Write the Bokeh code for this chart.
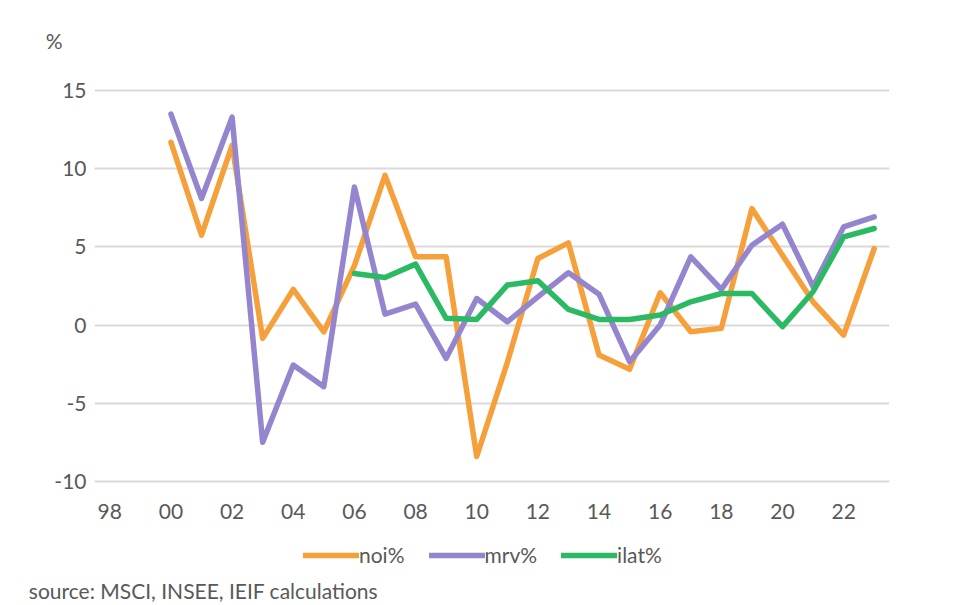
from bokeh.plotting import figure
from bokeh.models import FixedTicker, Legend, LegendItem, Range1d
from bokeh.layouts import column
from bokeh.embed import file_html
from bokeh.resources import INLINE

years = list(range(2000, 2024))
noi = [11.7, 5.75, 11.5, -0.85, 2.28, -0.43, 3.8, 9.58, 4.37, 4.37, -8.41, -2.4,
       4.26, 5.26, -1.92, -2.83, 2.07, -0.43, -0.21, 7.45, 4.47, 1.49, -0.64, 4.9]
mrv = [13.5, 8.1, 13.3, -7.5, -2.56, -3.94, 8.84, 0.7, 1.34, -2.13, 1.7, 0.21,
       1.8, 3.35, 1.98, -2.34, 0.0, 4.37, 2.28, 5.11, 6.45, 2.45, 6.28, 6.92]
ilat_years = list(range(2006, 2024))
ilat = [3.3, 3.05, 3.9, 0.43, 0.36, 2.56, 2.83, 1.0, 0.36, 0.36, 0.64, 1.49,
        2.02, 2.02, -0.1, 2.13, 5.64, 6.18]
series_names = ["noi%", "mrv%", "ilat%"]
series_colors = ["#F5A03A", "#9485CE", "#2BBA63"]
x_ticks = list(range(1998, 2023, 2))
x_tick_labels = [f"{t % 100:02d}" for t in x_ticks]
y_ticks = [-10, -5, 0, 5, 10, 15]
y_tick_labels = [str(t) for t in y_ticks]
unit_text = "%"
source_text = "source: MSCI, INSEE, IEIF calculations"

FONT = "Lato"
TXT = "#595959"
LW = 5.5


def style_axis(ax):
    ax.axis_line_color = None
    ax.major_tick_line_color = None
    ax.minor_tick_line_color = None
    ax.major_label_text_font = FONT
    ax.major_label_text_font_size = "21px"
    ax.major_label_text_color = TXT


def strip(h, mbl, mbb, xloc, yloc):
    s = figure(width=950, height=h, output_backend="svg", toolbar_location=None,
               x_range=Range1d(0, 795), y_range=Range1d(0, h - mbb),
               x_axis_location=xloc, y_axis_location=yloc,
               min_border_left=mbl, min_border_right=61,
               min_border_top=0, min_border_bottom=mbb)
    s.grid.visible = False
    s.outline_line_color = None
    s.border_fill_color = "white"
    s.background_fill_color = "white"
    return s


# top strip: unit label carried by a left axis
q0 = strip(60, 94, 0, None, "left")
q0.yaxis.ticker = FixedTicker(ticks=[20])
q0.yaxis.major_label_overrides = {20: unit_text}
style_axis(q0.yaxis)
q0.yaxis.major_label_standoff = 26

# main chart
p = figure(width=950, height=475, output_backend="svg", toolbar_location=None,
           x_range=Range1d(1997.5, 2023.5), y_range=Range1d(-10.2, 15.2),
           min_border_left=94, min_border_right=61, min_border_top=27, min_border_bottom=51)
p.outline_line_color = None
p.background_fill_color = "white"
p.border_fill_color = "white"

p.xaxis.ticker = FixedTicker(ticks=x_ticks)
p.xaxis.major_label_overrides = {t: l for t, l in zip(x_ticks, x_tick_labels)}
p.yaxis.ticker = FixedTicker(ticks=y_ticks)
p.yaxis.major_label_overrides = {t: l for t, l in zip(y_ticks, y_tick_labels)}
style_axis(p.xaxis)
style_axis(p.yaxis)
p.xaxis.major_label_standoff = 13
p.yaxis.major_label_standoff = 2

p.xgrid.grid_line_color = None
p.ygrid.ticker = FixedTicker(ticks=y_ticks)
p.ygrid.grid_line_color = "#d9d9d9"
p.ygrid.grid_line_width = 2

p.line(years, noi, line_color=series_colors[0], line_width=LW, line_cap="round", line_join="round")
p.line(years, mrv, line_color=series_colors[1], line_width=LW, line_cap="round", line_join="round")
p.line(ilat_years, ilat, line_color=series_colors[2], line_width=LW, line_cap="round", line_join="round")

# bottom strip: legend, and source note carried by a bottom axis
q = strip(70, 94, 30, "below", None)
items = []
for name, col, xs, ys in zip(series_names, series_colors,
                             [years, years, ilat_years], [noi, mrv, ilat]):
    # same series, far off the strip's visible range: only the legend swatch shows
    r = q.line(xs, ys, line_color=col, line_width=LW, line_cap="round")
    items.append(LegendItem(label=name, renderers=[r]))
legend = Legend(items=items, orientation="horizontal", location=(209, 0),
                label_text_font=FONT, label_text_font_size="21px", label_text_color=TXT,
                glyph_width=56, glyph_height=20, label_standoff=0, spacing=24,
                padding=0, margin=0, border_line_color=None, background_fill_alpha=0)
q.add_layout(legend, "center")
q.xaxis.ticker = FixedTicker(ticks=[109])
q.xaxis.major_label_overrides = {109: source_text}
style_axis(q.xaxis)
q.xaxis.major_label_standoff = 4

open("out.html", "w").write(file_html(column(q0, p, q, spacing=0), INLINE))
